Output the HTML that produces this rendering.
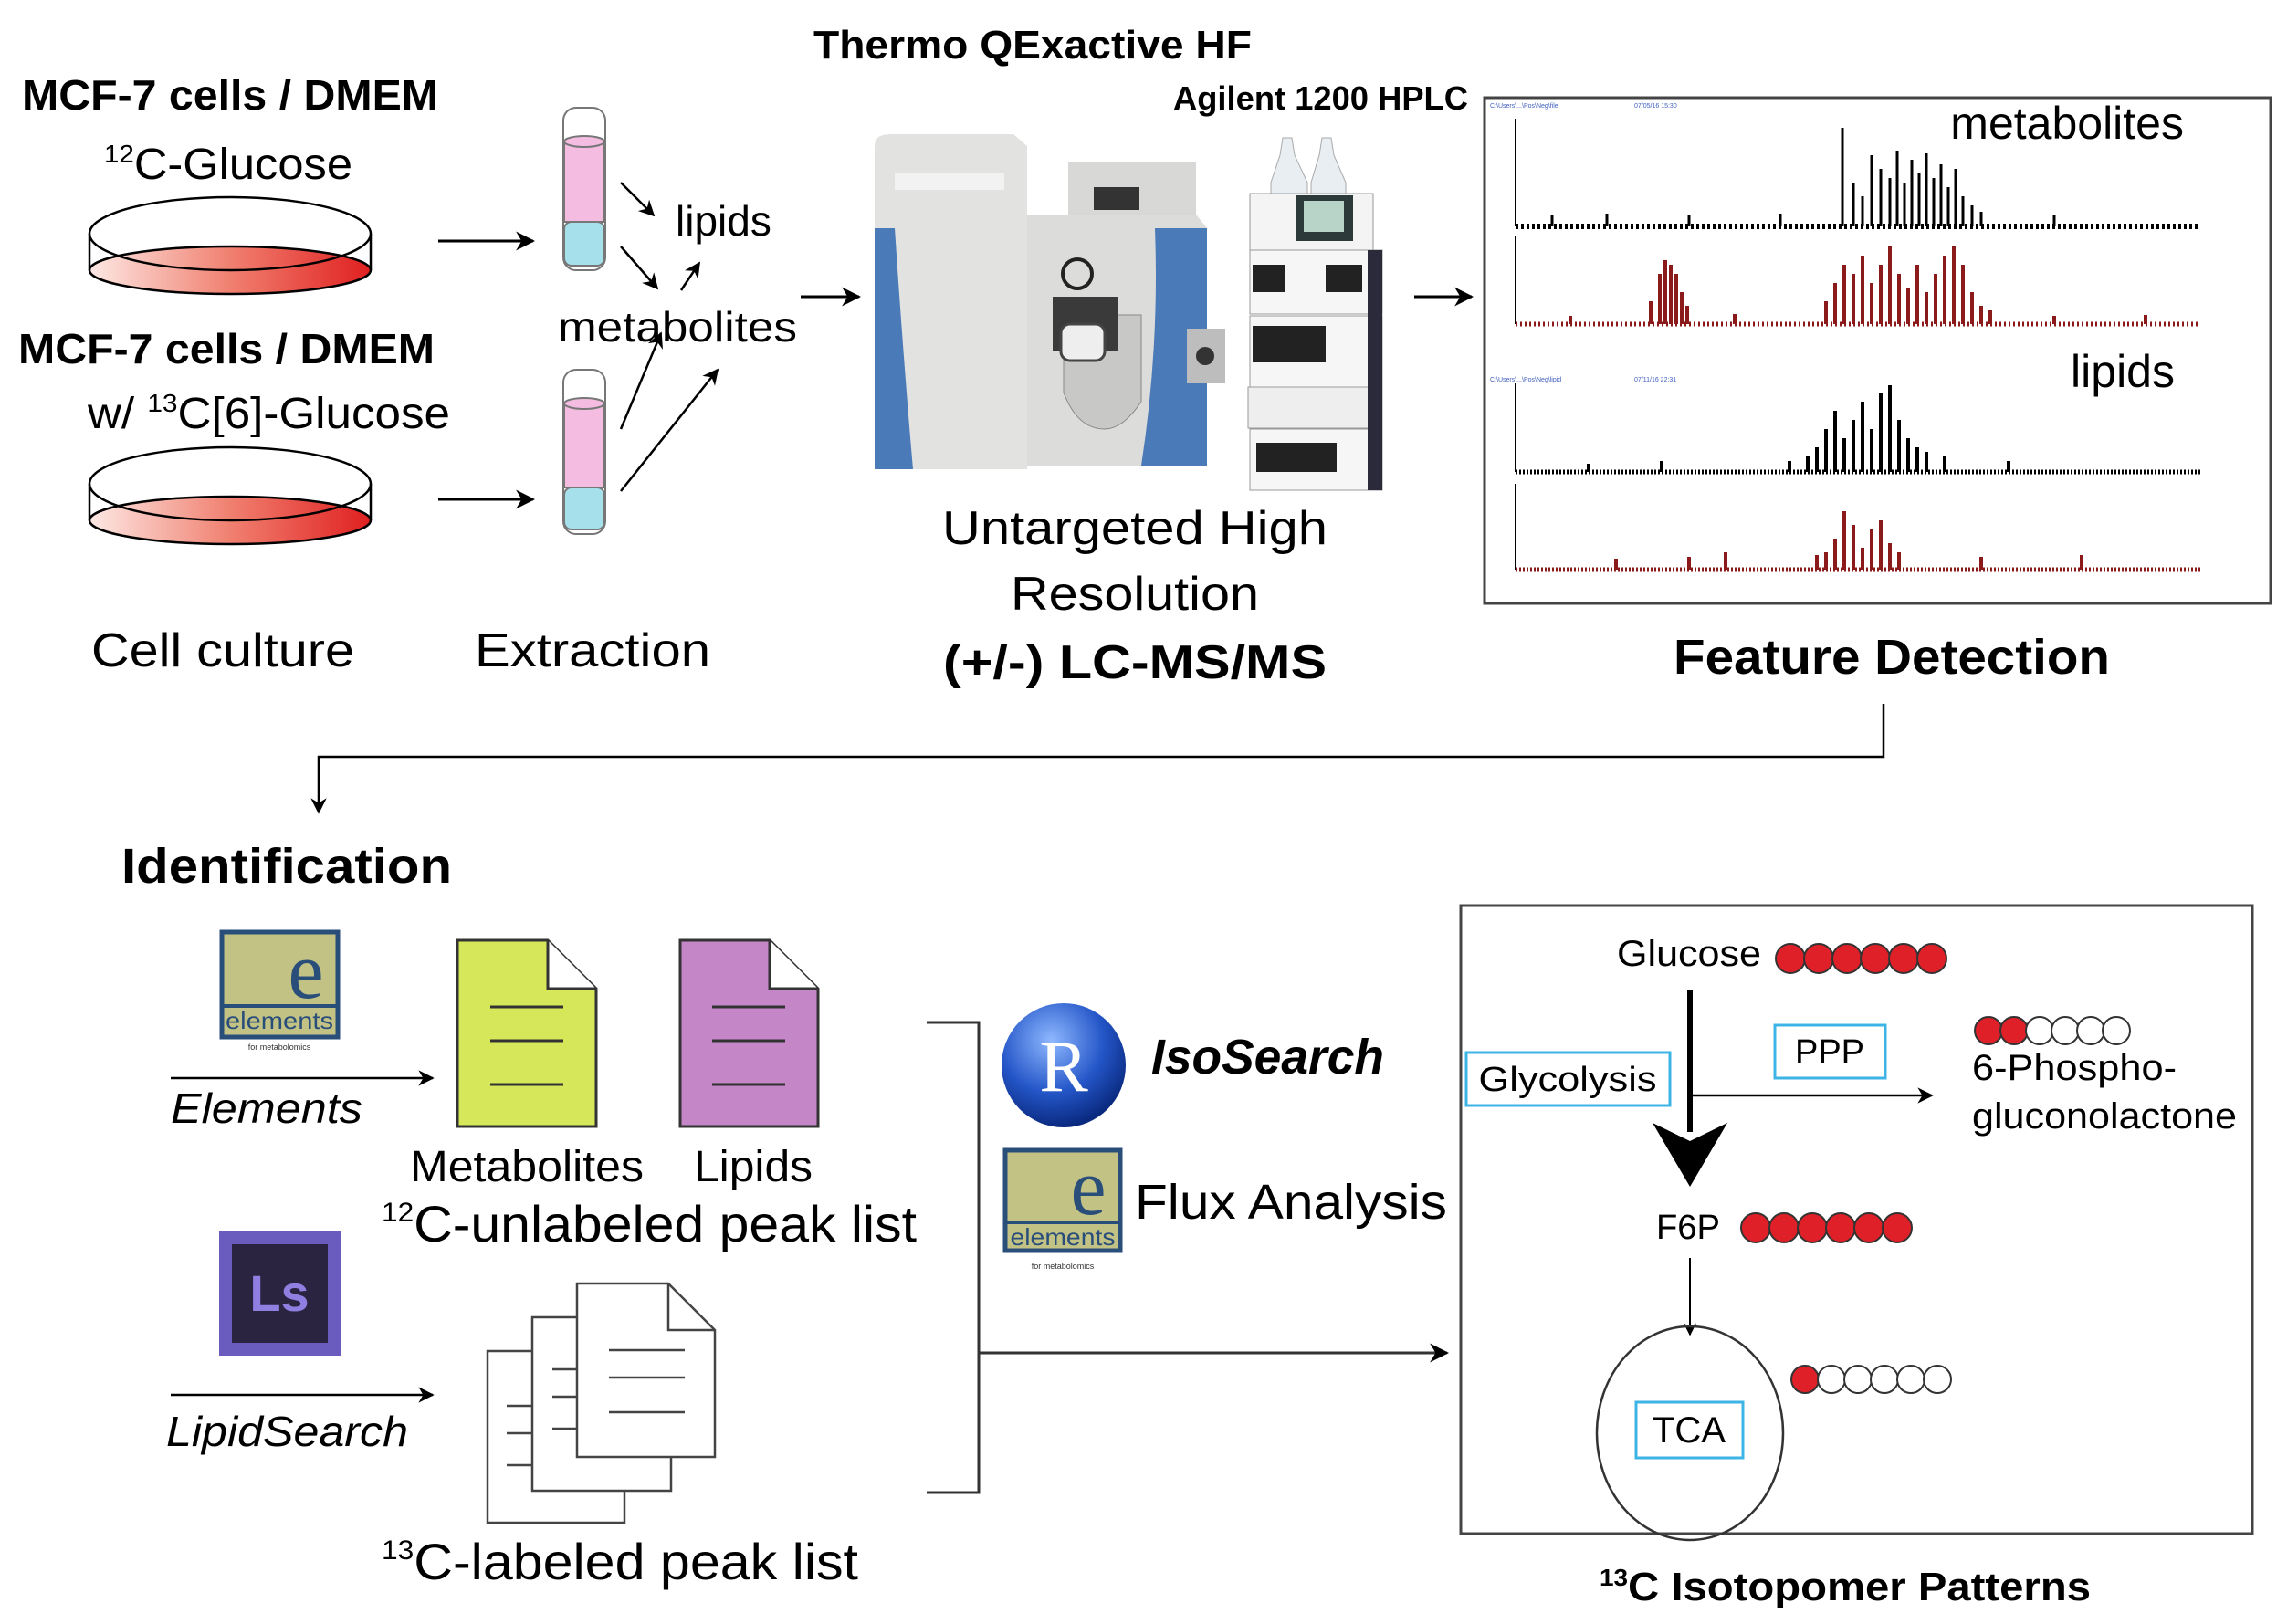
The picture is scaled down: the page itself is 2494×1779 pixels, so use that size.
<!DOCTYPE html>
<html><head><meta charset="utf-8"><style>html,body{margin:0;padding:0;background:#fff}svg{display:block}</style></head>
<body>
<svg width="2494" height="1779" viewBox="0 0 2494 1779" xmlns="http://www.w3.org/2000/svg" font-family="Liberation Sans, sans-serif">
<defs>
<linearGradient id="dish" x1="0" x2="1" y1="0" y2="0"><stop offset="0" stop-color="#fde8e4"/><stop offset="0.5" stop-color="#f08070"/><stop offset="1" stop-color="#e02020"/></linearGradient>
<marker id="ah" viewBox="0 0 10 10" refX="9" refY="5" markerWidth="7" markerHeight="7" orient="auto-start-reverse"><path d="M0,0 L10,5 L0,10 L3,5 z" fill="#000"/></marker>
<radialGradient id="rg" cx="0.4" cy="0.3" r="0.7"><stop offset="0" stop-color="#8fb8ff"/><stop offset="0.6" stop-color="#2456c8"/><stop offset="1" stop-color="#0a2a80"/></radialGradient>
</defs>

<!-- Top titles -->
<text x="1131" y="64" font-size="44" font-weight="bold" text-anchor="middle" textLength="480" lengthAdjust="spacingAndGlyphs">Thermo QExactive HF</text>
<text x="24" y="120" font-size="46" font-weight="bold" textLength="456" lengthAdjust="spacingAndGlyphs">MCF-7 cells / DMEM</text>
<text x="114" y="196" font-size="48" textLength="272" lengthAdjust="spacingAndGlyphs"><tspan font-size="28" dy="-18">12</tspan><tspan dy="18">C-Glucose</tspan></text>
<text x="20" y="398" font-size="46" font-weight="bold" textLength="456" lengthAdjust="spacingAndGlyphs">MCF-7 cells / DMEM</text>
<text x="96" y="469" font-size="48" textLength="397" lengthAdjust="spacingAndGlyphs">w/ <tspan font-size="28" dy="-18">13</tspan><tspan dy="18">C[6]-Glucose</tspan></text>

<!-- Dishes -->
<g stroke="#000" stroke-width="2.5">
<ellipse cx="252" cy="296" rx="154" ry="26" fill="url(#dish)"/>
<path d="M98,256 L98,296 M406,256 L406,296" fill="none"/>
<ellipse cx="252" cy="256" rx="154" ry="40" fill="none"/>
<ellipse cx="252" cy="570" rx="154" ry="26" fill="url(#dish)"/>
<path d="M98,530 L98,570 M406,530 L406,570" fill="none"/>
<ellipse cx="252" cy="530" rx="154" ry="40" fill="none"/>
</g>
<g stroke="#000" stroke-width="3" fill="none" marker-end="url(#ah)">
<line x1="480" y1="264" x2="584" y2="264"/>
<line x1="480" y1="547" x2="584" y2="547"/>
</g>

<!-- Tubes -->
<g stroke="#777" stroke-width="2">
<rect x="617" y="118" width="46" height="178" rx="14" fill="#fff"/>
<rect x="618" y="155" width="44" height="88" fill="#f4bce0"/>
<rect x="618" y="243" width="44" height="48" rx="8" fill="#a6e0ea"/>
<ellipse cx="640" cy="155" rx="22" ry="6" fill="#f4bce0"/>
<rect x="617" y="405" width="46" height="180" rx="14" fill="#fff"/>
<rect x="618" y="442" width="44" height="92" fill="#f4bce0"/>
<rect x="618" y="534" width="44" height="46" rx="8" fill="#a6e0ea"/>
<ellipse cx="640" cy="442" rx="22" ry="6" fill="#f4bce0"/>
</g>
<g stroke="#000" stroke-width="2.5" fill="none" marker-end="url(#ah)">
<line x1="680" y1="200" x2="716" y2="236"/>
<line x1="680" y1="270" x2="720" y2="316"/>
<line x1="746" y1="318" x2="766" y2="288"/>
<line x1="680" y1="470" x2="724" y2="365"/>
<line x1="680" y1="538" x2="786" y2="405"/>
</g>
<text x="740" y="258" font-size="46">lipids</text>
<text x="611" y="374" font-size="46" textLength="262" lengthAdjust="spacingAndGlyphs">metabolites</text>
<text x="100" y="730" font-size="52" textLength="288" lengthAdjust="spacingAndGlyphs">Cell culture</text>
<text x="520" y="730" font-size="52" textLength="258" lengthAdjust="spacingAndGlyphs">Extraction</text>
<line x1="877" y1="325" x2="941" y2="325" stroke="#000" stroke-width="3" marker-end="url(#ah)"/>

<!-- Instrument -->
<g>
<path d="M958,160 Q958,147 975,147 L1110,147 L1125,160 L1125,514 L958,514 Z" fill="#e2e2e0"/>
<path d="M958,250 L980,250 Q990,400 1000,514 L958,514 Z" fill="#4a7ab8"/>
<rect x="980" y="190" width="120" height="18" fill="#f2f2f2"/>
<rect x="1170" y="178" width="140" height="60" fill="#d8d8d6"/>
<rect x="1198" y="205" width="50" height="25" fill="#333"/>
<path d="M1125,235 L1310,235 L1322,250 L1322,510 L1125,510 Z" fill="#dcdcda"/>
<path d="M1265,250 L1322,250 L1322,510 L1250,510 Q1270,380 1265,250 Z" fill="#4a7ab8"/>
<path d="M1165,345 L1250,345 L1250,440 Q1230,470 1210,470 Q1180,470 1165,430 Z" fill="#c8c8c6" stroke="#888"/>
<rect x="1153" y="325" width="72" height="60" fill="#3a3a3a"/>
<rect x="1162" y="355" width="48" height="40" rx="10" fill="#eee" stroke="#444" stroke-width="3"/>
<circle cx="1180" cy="300" r="16" fill="none" stroke="#222" stroke-width="4"/>
<rect x="1300" y="360" width="42" height="60" fill="#bdbdbd"/>
<circle cx="1320" cy="390" r="10" fill="#333"/>
</g>
<!-- HPLC -->
<g>
<path d="M1405,151 L1415,151 L1418,170 L1432,200 L1432,215 L1392,215 L1392,200 L1402,170 Z" fill="#e8eef2" stroke="#aaa"/>
<path d="M1448,151 L1458,151 L1461,170 L1474,200 L1474,215 L1436,215 L1436,200 L1445,170 Z" fill="#e8eef2" stroke="#aaa"/>
<rect x="1369" y="212" width="135" height="62" fill="#f4f4f4" stroke="#999"/>
<rect x="1420" y="214" width="62" height="50" fill="#2c3a3a"/>
<rect x="1428" y="220" width="44" height="34" fill="#b8d4c8"/>
<rect x="1369" y="274" width="145" height="70" fill="#f6f6f6" stroke="#999"/>
<rect x="1372" y="290" width="36" height="30" fill="#222"/>
<rect x="1452" y="290" width="40" height="30" fill="#222"/>
<rect x="1369" y="346" width="145" height="78" fill="#f6f6f6" stroke="#999"/>
<rect x="1372" y="357" width="80" height="40" fill="#222"/>
<rect x="1367" y="424" width="147" height="45" fill="#eee" stroke="#999"/>
<rect x="1369" y="470" width="145" height="67" fill="#f6f6f6" stroke="#999"/>
<rect x="1376" y="485" width="88" height="32" fill="#222"/>
<rect x="1498" y="274" width="16" height="263" fill="#2a2a3a"/>
</g>
<text x="1285" y="120" font-size="36" font-weight="bold" textLength="323" lengthAdjust="spacingAndGlyphs">Agilent 1200 HPLC</text>
<text x="1243" y="596" font-size="52" text-anchor="middle" textLength="422" lengthAdjust="spacingAndGlyphs">Untargeted High</text>
<text x="1243" y="668" font-size="52" text-anchor="middle" textLength="272" lengthAdjust="spacingAndGlyphs">Resolution</text>
<text x="1243" y="743" font-size="52" font-weight="bold" text-anchor="middle" textLength="420" lengthAdjust="spacingAndGlyphs">(+/-) LC-MS/MS</text>
<line x1="1549" y1="325" x2="1612" y2="325" stroke="#000" stroke-width="3" marker-end="url(#ah)"/>

<!-- Chromatogram box -->
<rect x="1626" y="107" width="861" height="554" fill="#fff" stroke="#444" stroke-width="3"/>
<g stroke-width="2" fill="none">
<line x1="1660" y1="130" x2="1660" y2="248" stroke="#000"/>
<line x1="1660" y1="248" x2="2410" y2="248" stroke="#000" stroke-width="6" stroke-dasharray="3 3"/>
<path stroke="#000" stroke-width="3" d="M2018,248V140 M2030,248V200 M2040,248V215 M2050,248V170 M2060,248V185 M2070,248V195 M2078,248V165 M2086,248V200 M2094,248V175 M2102,248V190 M2110,248V168 M2118,248V195 M2126,248V180 M2134,248V205 M2142,248V185 M2150,248V215 M2160,248V225 M2170,248V232 M1700,248V236 M1760,248V234 M1850,248V236 M1950,248V234 M2250,248V236"/>
<line x1="1660" y1="258" x2="1660" y2="355" stroke="#000"/>
<line x1="1660" y1="355" x2="2410" y2="355" stroke="#8b1a1a" stroke-width="5" stroke-dasharray="2 3"/>
<path stroke="#8b1a1a" stroke-width="4" d="M1818,355V300 M1824,355V285 M1830,355V290 M1836,355V300 M1842,355V320 M1848,355V335 M1808,355V330 M2000,355V330 M2010,355V310 M2020,355V290 M2030,355V300 M2040,355V280 M2050,355V310 M2060,355V290 M2070,355V270 M2080,355V300 M2090,355V315 M2100,355V290 M2110,355V320 M2120,355V300 M2130,355V280 M2140,355V270 M2150,355V290 M2160,355V320 M2170,355V335 M2180,355V340 M1900,355V344 M1720,355V346 M2250,355V346 M2350,355V345"/>
<line x1="1660" y1="420" x2="1660" y2="517" stroke="#000"/>
<line x1="1660" y1="517" x2="2410" y2="517" stroke="#000" stroke-width="5" stroke-dasharray="2 2"/>
<path stroke="#000" stroke-width="4" d="M1990,517V490 M2000,517V470 M2010,517V450 M2020,517V480 M2030,517V460 M2040,517V440 M2050,517V470 M2060,517V430 M2070,517V422 M2080,517V460 M2090,517V480 M2100,517V490 M2110,517V495 M2130,517V500 M1980,517V500 M1960,517V505 M1820,517V505 M1740,517V508 M2200,517V505"/>
<line x1="1660" y1="530" x2="1660" y2="624" stroke="#000"/>
<line x1="1660" y1="624" x2="2410" y2="624" stroke="#8b1a1a" stroke-width="5" stroke-dasharray="2 2"/>
<path stroke="#8b1a1a" stroke-width="4" d="M2010,624V590 M2020,624V560 M2030,624V575 M2040,624V600 M2050,624V580 M2060,624V570 M2070,624V595 M2080,624V605 M2000,624V605 M1990,624V608 M1890,624V605 M1850,624V610 M1770,624V612 M2170,624V610 M2280,624V608"/>
</g>
<g font-size="7" fill="#4060c0"><text x="1632" y="118">C:\Users\...\Pos\Neg\file</text><text x="1790" y="118">07/05/16 15:30</text><text x="1632" y="418">C:\Users\...\Pos\Neg\lipid</text><text x="1790" y="418">07/11/16 22:31</text></g>
<text x="2392" y="152" font-size="50" text-anchor="end">metabolites</text>
<text x="2382" y="424" font-size="50" text-anchor="end">lipids</text>
<text x="2072" y="738" font-size="54" font-weight="bold" text-anchor="middle" textLength="478" lengthAdjust="spacingAndGlyphs">Feature Detection</text>

<!-- connector -->
<polyline points="2063,771 2063,829 349,829 349,890" fill="none" stroke="#000" stroke-width="2.5" marker-end="url(#ah)"/>
<text x="133" y="967" font-size="54" font-weight="bold" textLength="362" lengthAdjust="spacingAndGlyphs">Identification</text>

<!-- Elements logo 1 -->
<g>
<rect x="243" y="1021" width="127" height="115" fill="#c2c285" stroke="#2a4e7a" stroke-width="5"/>
<text x="335" y="1093" font-size="88" fill="#2a4e7a" font-family="Liberation Serif, serif" text-anchor="middle">e</text>
<rect x="243" y="1100" width="127" height="4" fill="#2a4e7a"/>
<text x="306" y="1127" font-size="26" fill="#2a4e7a" text-anchor="middle" textLength="118" lengthAdjust="spacingAndGlyphs">elements</text>
<text x="306" y="1150" font-size="9" fill="#333" text-anchor="middle">for metabolomics</text>
</g>
<line x1="187" y1="1181" x2="474" y2="1181" stroke="#000" stroke-width="2.5" marker-end="url(#ah)"/>
<text x="187" y="1230" font-size="46" font-style="italic" textLength="210" lengthAdjust="spacingAndGlyphs">Elements</text>

<!-- docs -->
<g stroke="#333" stroke-width="3">
<path d="M501,1030 L600,1030 L653,1083 L653,1234 L501,1234 Z" fill="#d6e85a"/>
<path d="M600,1030 L600,1083 L653,1083" fill="#fff"/>
<path d="M537,1103 H617 M537,1140 H617 M537,1188 H617" fill="none"/>
<path d="M745,1030 L843,1030 L896,1083 L896,1234 L745,1234 Z" fill="#c586c8"/>
<path d="M843,1030 L843,1083 L896,1083" fill="#fff"/>
<path d="M780,1103 H860 M780,1140 H860 M780,1188 H860" fill="none"/>
</g>
<text x="449" y="1294" font-size="48" textLength="256" lengthAdjust="spacingAndGlyphs">Metabolites</text>
<text x="760" y="1294" font-size="48" textLength="130" lengthAdjust="spacingAndGlyphs">Lipids</text>
<text x="418" y="1360" font-size="56" textLength="586" lengthAdjust="spacingAndGlyphs"><tspan font-size="30" dy="-22">12</tspan><tspan dy="22">C-unlabeled peak list</tspan></text>

<!-- Ls logo -->
<rect x="240" y="1349" width="133" height="136" fill="#6a5bbf"/>
<rect x="254" y="1363" width="105" height="108" fill="#2b2440"/>
<text x="306" y="1436" font-size="56" fill="#8e7fe0" text-anchor="middle" font-weight="bold">Ls</text>
<line x1="187" y1="1528" x2="474" y2="1528" stroke="#000" stroke-width="2.5" marker-end="url(#ah)"/>
<text x="182" y="1584" font-size="46" font-style="italic" textLength="265" lengthAdjust="spacingAndGlyphs">LipidSearch</text>

<!-- stacked docs -->
<g stroke="#444" stroke-width="2.5" fill="#fff">
<rect x="534" y="1480" width="150" height="188"/>
<path d="M555,1540 H585 M555,1570 H585 M555,1605 H585" fill="none"/>
<rect x="583" y="1443" width="152" height="190"/>
<path d="M605,1500 H635 M605,1530 H635 M605,1565 H635" fill="none"/>
<path d="M632,1406 L732,1406 L783,1457 L783,1596 L632,1596 Z"/>
<path d="M732,1406 L732,1457 L783,1457" fill="none"/>
<path d="M667,1479 H750 M667,1509 H750 M667,1547 H750" fill="none"/>
</g>
<text x="418" y="1730" font-size="56" textLength="522" lengthAdjust="spacingAndGlyphs"><tspan font-size="30" dy="-22">13</tspan><tspan dy="22">C-labeled peak list</tspan></text>

<!-- bracket -->
<polyline points="1015,1120 1072,1120 1072,1635 1015,1635" fill="none" stroke="#333" stroke-width="3"/>
<line x1="1072" y1="1482" x2="1585" y2="1482" stroke="#333" stroke-width="3" marker-end="url(#ah)"/>

<!-- R logo -->
<circle cx="1165" cy="1167" r="68" fill="url(#rg)"/>
<text x="1165" y="1195" font-size="80" fill="#fff" font-family="Liberation Serif, serif" text-anchor="middle">R</text>
<text x="1261" y="1176" font-size="54" font-weight="bold" font-style="italic" textLength="255" lengthAdjust="spacingAndGlyphs">IsoSearch</text>
<!-- Elements logo 2 -->
<g>
<rect x="1101" y="1260" width="126" height="110" fill="#c2c285" stroke="#2a4e7a" stroke-width="5"/>
<text x="1192" y="1330" font-size="88" fill="#2a4e7a" font-family="Liberation Serif, serif" text-anchor="middle">e</text>
<rect x="1101" y="1337" width="126" height="4" fill="#2a4e7a"/>
<text x="1164" y="1364" font-size="26" fill="#2a4e7a" text-anchor="middle" textLength="115" lengthAdjust="spacingAndGlyphs">elements</text>
<text x="1164" y="1390" font-size="9" fill="#333" text-anchor="middle">for metabolomics</text>
</g>
<text x="1243" y="1335" font-size="54" textLength="342" lengthAdjust="spacingAndGlyphs">Flux Analysis</text>

<!-- Right box -->
<rect x="1600" y="992" width="867" height="688" fill="#fff" stroke="#444" stroke-width="3"/>
<text x="1771" y="1058" font-size="40" textLength="158" lengthAdjust="spacingAndGlyphs">Glucose</text>
<g stroke="#333" stroke-width="2">
<g fill="#e02028"><circle cx="1961" cy="1050" r="16"/><circle cx="1992" cy="1050" r="16"/><circle cx="2023" cy="1050" r="16"/><circle cx="2054" cy="1050" r="16"/><circle cx="2085" cy="1050" r="16"/><circle cx="2116" cy="1050" r="16"/></g>
<circle cx="2178" cy="1129" r="15" fill="#e02028"/><circle cx="2206" cy="1129" r="15" fill="#e02028"/><circle cx="2234" cy="1129" r="15" fill="#fff"/><circle cx="2262" cy="1129" r="15" fill="#fff"/><circle cx="2290" cy="1129" r="15" fill="#fff"/><circle cx="2318" cy="1129" r="15" fill="#fff"/>
<g fill="#e02028"><circle cx="1923" cy="1345" r="16"/><circle cx="1954" cy="1345" r="16"/><circle cx="1985" cy="1345" r="16"/><circle cx="2016" cy="1345" r="16"/><circle cx="2047" cy="1345" r="16"/><circle cx="2078" cy="1345" r="16"/></g>
<circle cx="1977" cy="1511" r="15" fill="#e02028"/><circle cx="2006" cy="1511" r="15" fill="#fff"/><circle cx="2035" cy="1511" r="15" fill="#fff"/><circle cx="2064" cy="1511" r="15" fill="#fff"/><circle cx="2093" cy="1511" r="15" fill="#fff"/><circle cx="2122" cy="1511" r="15" fill="#fff"/>
</g>
<line x1="1851" y1="1085" x2="1851" y2="1240" stroke="#000" stroke-width="6"/>
<path d="M1810,1230 L1851,1250 L1892,1230 L1851,1300 Z" fill="#000"/>
<line x1="1851" y1="1200" x2="2116" y2="1200" stroke="#000" stroke-width="2.5" marker-end="url(#ah)"/>
<rect x="1944" y="1123" width="121" height="58" fill="none" stroke="#3cb4e6" stroke-width="3"/>
<text x="2004" y="1165" font-size="38" text-anchor="middle">PPP</text>
<rect x="1606" y="1153" width="223" height="58" fill="none" stroke="#3cb4e6" stroke-width="3"/>
<text x="1717" y="1195" font-size="38" text-anchor="middle" textLength="195" lengthAdjust="spacingAndGlyphs">Glycolysis</text>
<text x="2160" y="1183" font-size="40" textLength="224" lengthAdjust="spacingAndGlyphs">6-Phospho-</text>
<text x="2160" y="1236" font-size="40" textLength="290" lengthAdjust="spacingAndGlyphs">gluconolactone</text>
<text x="1814" y="1357" font-size="38" textLength="70" lengthAdjust="spacingAndGlyphs">F6P</text>
<line x1="1851" y1="1378" x2="1851" y2="1462" stroke="#000" stroke-width="2" marker-end="url(#ah)"/>
<ellipse cx="1851" cy="1570" rx="102" ry="117" fill="none" stroke="#333" stroke-width="2.5"/>
<rect x="1792" y="1536" width="117" height="61" fill="none" stroke="#3cb4e6" stroke-width="3"/>
<text x="1850" y="1580" font-size="40" text-anchor="middle">TCA</text>
<text x="2021" y="1753" font-size="44" font-weight="bold" text-anchor="middle" textLength="538" lengthAdjust="spacingAndGlyphs"><tspan font-size="26" dy="-16">13</tspan><tspan dy="16">C Isotopomer Patterns</tspan></text>
</svg>
</body></html>
